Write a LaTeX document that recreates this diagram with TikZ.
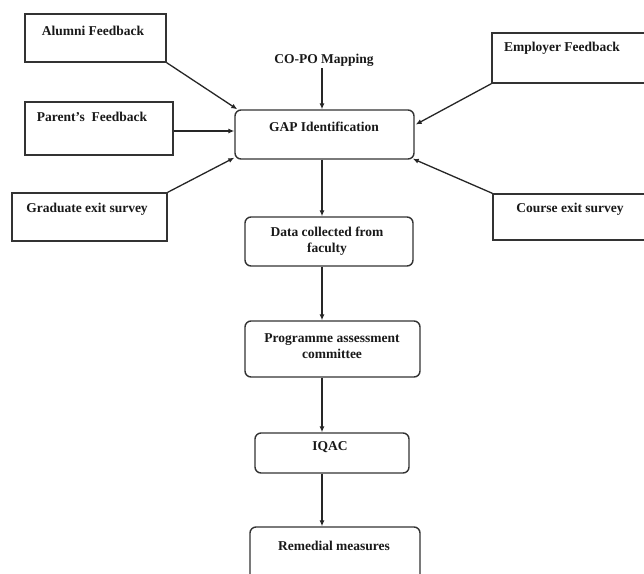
\documentclass[tikz,border=0pt]{standalone}
\usepackage{fontspec}
\setmainfont{Liberation Serif}
\usetikzlibrary{arrows.meta,calc}
\begin{document}
\begin{tikzpicture}[x=1pt,y=-1pt,
  box/.style={draw=black!80,line width=1.4pt,rectangle,inner sep=0pt},
  rbox/.style={box,rounded corners=6pt},
  lbl/.style={font=\fontsize{13.5}{16}\selectfont\bfseries,inner sep=0pt,text=black!90,align=center},
  arr/.style={draw=black!85,line width=1.3pt,-{Latex[length=6pt,width=5pt]}}]
\useasboundingbox (0,0) rectangle (644,573);
\clip (0,0) rectangle (644,573);
\fill[white] (0,0) rectangle (644,573);
% boxes
\node[box,minimum width=141pt,minimum height=48pt] (alumni) at (95.5,38) {};
\node[lbl] (alumnit) at (93,31) {Alumni Feedback};
\node[box,minimum width=148pt,minimum height=53pt] (parent) at (99,128.5) {};
\node[lbl] (parentt) at (92,117) {Parent's~ Feedback};
\node[box,minimum width=155pt,minimum height=48pt] (grad) at (89.5,217) {};
\node[lbl] (gradt) at (87,209) {Graduate exit survey};
\node[box,minimum width=170pt,minimum height=50pt] (emp) at (577,58) {};
\node[lbl] (empt) at (562,48) {Employer Feedback};
\node[box,minimum width=170pt,minimum height=46pt] (course) at (578,217) {};
\node[lbl] (courset) at (570,209) {Course exit survey};
\node[lbl] (copo) at (324,60) {CO-PO Mapping};
\node[rbox,minimum width=179pt,minimum height=49pt] (gap) at (324.5,134.5) {};
\node[lbl] (gapt) at (324,127) {GAP Identification};
\node[rbox,minimum width=168pt,minimum height=49pt] (data) at (329,241.5) {};
\node[lbl] (datat) at (327,241) {Data collected from\\[0pt]faculty};
\node[rbox,minimum width=175pt,minimum height=56pt] (prog) at (332.5,349) {};
\node[lbl] (progt) at (332,346) {Programme assessment\\[0pt]committee};
\node[rbox,minimum width=154pt,minimum height=40pt] (iqac) at (332,453) {};
\node[lbl] (iqact) at (330,447) {IQAC};
\node[rbox,minimum width=170pt,minimum height=63pt] (rem) at (335,558.5) {};
\node[lbl] (remt) at (334,546) {Remedial measures};
\coordinate (xc) at (322,0);
% arrows
\draw[arr] (copo.south -| xc) ++(0,2) -- (gap.north -| xc);
\draw[arr] (alumni.south east) -- ($(gap.north west)+(3,0)$);
\draw[arr] (parent.east |- 0,131) -- (gap.west |- 0,131);
\draw[arr] (grad.north east) -- ($(gap.south west)+(0,-2)$);
\draw[arr] (emp.south west) -- ($(gap.east)+(1,-10)$);
\draw[arr] (course.north west) -- ($(gap.south east)+(-2,-1)$);
\draw[arr] (gap.south -| xc) -- (data.north -| xc);
\draw[arr] (data.south -| xc) -- (prog.north -| xc);
\draw[arr] (prog.south -| xc) -- (iqac.north -| xc);
\draw[arr] (iqac.south -| xc) -- (rem.north -| xc);
\end{tikzpicture}
\end{document}
